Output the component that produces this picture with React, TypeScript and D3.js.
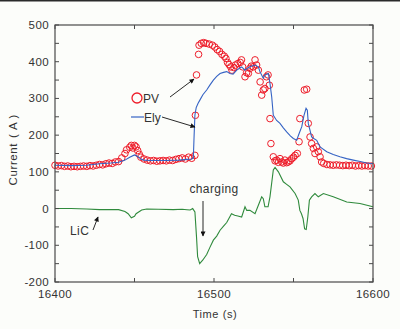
import React from "react";
import * as d3 from "d3";

const W = 400;
const H = 329;

const xTicks = [16400, 16500, 16600];
const xMinorTicks = [16400, 16450, 16500, 16550, 16600];
const yTicks = [-200, -100, 0, 100, 200, 300, 400, 500];
const yMinorTicks = [-200, -150, -100, -50, 0, 50, 100, 150, 200, 250, 300, 350, 400, 450, 500];

const pvTime = [
  16400, 16402, 16404, 16406, 16408, 16410, 16412, 16414, 16416, 16418, 16420, 16422, 16424, 16426, 16428,
  16430, 16432, 16434, 16436, 16438, 16440, 16442, 16444, 16445, 16447, 16448, 16449, 16450, 16451, 16452,
  16453, 16454, 16456, 16458, 16460, 16462, 16464, 16466, 16468, 16470, 16472, 16474, 16476, 16478, 16480,
  16482, 16484, 16486, 16488, 16488.3, 16489, 16490.3, 16490.6, 16492, 16493.5, 16495, 16497, 16499, 16500.5,
  16502, 16503.5, 16505, 16506.5, 16507.5, 16508.5, 16509.5, 16510.5, 16511.3, 16512.5, 16513.5, 16515,
  16516.5, 16517.3, 16518, 16519.5, 16520.5, 16521.6, 16522.6, 16523.5, 16524.7, 16525.8, 16526.8, 16527.9,
  16529, 16530, 16531, 16532, 16533, 16534, 16534.8, 16535.2, 16535.8, 16537.3, 16538.4, 16539.4, 16540.5,
  16541.5, 16542.6, 16543.6, 16544.6, 16545.7, 16546.7, 16547.8, 16548.9, 16550, 16551, 16552.4, 16553.5,
  16554, 16556.8, 16558.3, 16559.3, 16560.4, 16561.4, 16562.5, 16563.5, 16564.6, 16565.6, 16566.7, 16567.7,
  16569, 16571, 16573, 16575, 16577, 16579, 16581, 16583, 16585, 16587, 16589, 16591, 16593, 16595, 16597, 16599,
];
const pvValue = [
  118, 116, 117, 115, 116, 114, 115, 114, 115, 116, 115, 117, 116, 118, 120,
  119, 122, 124, 123, 127, 128, 138, 150, 160, 167, 172, 165, 172, 168, 158,
  148, 140, 135, 132, 130, 131, 129, 130, 131, 130, 132, 131, 134, 136, 138,
  135, 140, 137, 145, 254, 364, 420, 445, 450, 452, 450, 448, 445, 440,
  433, 428, 420, 415, 409, 398, 392, 386, 377, 384, 391, 395,
  398, 405, 386, 359, 370, 368, 382, 388, 386, 405, 391, 377,
  345, 309, 323, 327, 359, 364, 336, 245, 177, 141, 130, 132, 126,
  136, 127, 124, 132, 125, 127, 130, 136, 140, 145, 150, 182,
  245, 323, 325, 232, 195, 177, 164, 150, 168, 155, 141, 127,
  123, 120, 119, 118, 119, 118, 117, 118, 117, 118, 116, 117, 116, 117, 116, 116,
];

const elyTime = [
  16400, 16410, 16420, 16428, 16435, 16440, 16444, 16447, 16450, 16452, 16454, 16456, 16460, 16470, 16478,
  16483, 16486, 16487, 16487.5, 16488, 16488.8, 16490, 16491.2, 16493, 16495.4, 16497.5, 16499.6, 16501.7,
  16503.8, 16506, 16508, 16510, 16512, 16514.3, 16516, 16517.4, 16519.5, 16521, 16522.6, 16525.8, 16527.9,
  16528.9, 16531, 16532, 16534.2, 16535.2, 16536.3, 16537.3, 16539.4, 16541.5, 16543.6, 16545.7, 16548,
  16549.9, 16552, 16553.6, 16555.2, 16556.6, 16557.9, 16558.7, 16559.3, 16561.4, 16563, 16564.6, 16566.7,
  16570.9, 16575, 16579.2, 16583.4, 16587.6, 16592, 16596, 16600,
];
const elyValue = [
  118, 117, 118, 122, 124, 126, 132, 140, 146, 142, 135, 132, 131, 131, 132,
  134, 135, 138, 200, 255, 275, 287, 296, 310, 323, 337, 350, 360,
  368, 371, 373, 368, 366, 377, 382, 386, 377, 382, 386, 391, 386,
  373, 355, 364, 368, 341, 304, 254, 240, 232, 220, 209, 198,
  191, 186, 205, 223, 254, 273, 268, 232, 195, 190, 186, 168,
  155, 147, 141, 136, 132, 128, 124, 122,
];

const licTime = [
  16400, 16410, 16420, 16428, 16440, 16444, 16446, 16448, 16450, 16451, 16454.5, 16457.7, 16465, 16474.4,
  16480, 16483, 16485, 16486.6, 16488, 16489, 16489.7, 16491, 16493, 16495.4, 16497.5, 16499.6, 16501.7,
  16503.8, 16506, 16508, 16511, 16513, 16515, 16517.4, 16519.5, 16520.6, 16522.6, 16525.8, 16527.9, 16530,
  16531, 16532, 16534, 16535.2, 16537.3, 16538.4, 16540.5, 16543.6, 16545.7, 16547.8, 16551, 16553, 16554,
  16555, 16556, 16557, 16558, 16559, 16560, 16561.4, 16563.5, 16565.6, 16568.8, 16575, 16583.5, 16591.8, 16600,
];
const licValue = [
  0, 0, -1, -3, -3, -8, -14, -25, -21, -14, -4, -1, -2, -3,
  -2, -3, -4, 0, -9, -77, -131, -150, -140, -125, -105, -86, -75,
  -59, -48, -38, -14, -18, -20, -23, 5, -5, -5, -14, 9, 32,
  27, 5, 5, 32, 105, 112, 100, 73, 66, 59, 41, 23, -5,
  -14, -27, -55, -57, -23, 23, 32, 41, 32, 41, 32, 18, 14, 5,
];

const RED = "#ee1d2a";
const BLUE = "#3563c4";
const GREEN = "#2f8a3c";
const AXIS = "#4a4a4a";
const TEXT = "#333333";
const FONT = "'Liberation Sans', Arial, Helvetica, sans-serif";

export default function App() {
  const x = d3.scaleLinear().domain([16400, 16600]).range([55, 373]);
  const y = d3.scaleLinear().domain([-200, 500]).range([282, 25]);

  const elyData = elyTime.map((t, i) => [t, elyValue[i]] as [number, number]);
  const licData = licTime.map((t, i) => [t, licValue[i]] as [number, number]);
  const line = d3
    .line<[number, number]>()
    .x((d) => x(d[0]))
    .y((d) => y(d[1]));

  const [x0, x1] = x.range();
  const [yb, yt] = y.range();
  const tl = 4;

  return (
    <svg
      width={W}
      height={H}
      style={{ position: "absolute", left: 0, top: 0, background: "#fcfdfa" }}
      fontFamily={FONT}
    >
      <defs>
        <marker id="ah" viewBox="0 0 10 10" refX="9" refY="5" markerWidth="6" markerHeight="5" orient="auto" markerUnits="userSpaceOnUse">
          <path d="M0,0 L10,5 L0,10 z" fill="#111" />
        </marker>
      </defs>
      <rect x={0} y={0} width={W} height={1.5} fill="#2a2a2a" />

      {/* data */}
      <path d={line(licData) || ""} fill="none" stroke={GREEN} strokeWidth={1.1} />
      {pvTime.map((t, i) => (
        <circle key={i} cx={x(t)} cy={y(pvValue[i])} r={3.3} fill="none" stroke={RED} strokeWidth={1} />
      ))}
      <path d={line(elyData) || ""} fill="none" stroke={BLUE} strokeWidth={1.1} />

      {/* frame */}
      <rect x={x0} y={yt} width={x1 - x0} height={yb - yt} fill="none" stroke={AXIS} strokeWidth={1.2} />
      {yMinorTicks.map((v) => (
        <g key={"y" + v}>
          <line x1={x0} x2={x0 + tl} y1={y(v)} y2={y(v)} stroke={AXIS} strokeWidth={1} />
          <line x1={x1} x2={x1 - tl} y1={y(v)} y2={y(v)} stroke={AXIS} strokeWidth={1} />
        </g>
      ))}
      {xMinorTicks.map((v) => (
        <g key={"x" + v}>
          <line x1={x(v)} x2={x(v)} y1={yb} y2={yb - tl} stroke={AXIS} strokeWidth={1} />
          <line x1={x(v)} x2={x(v)} y1={yt} y2={yt + tl} stroke={AXIS} strokeWidth={1} />
        </g>
      ))}
      {yTicks.map((v) => (
        <text key={"yl" + v} x={49} y={y(v) + 4} textAnchor="end" fontSize={11.5} fill={TEXT} letterSpacing={0.4}>
          {v}
        </text>
      ))}
      {xTicks.map((v) => (
        <text key={"xl" + v} x={x(v)} y={298} textAnchor="middle" fontSize={11.5} fill={TEXT} letterSpacing={0.4}>
          {v}
        </text>
      ))}
      <text x={215} y={318} textAnchor="middle" fontSize={11} fill={TEXT} letterSpacing={0.6}>
        Time (s)
      </text>
      <g transform="translate(17,148) rotate(-90)">
        <text x={0} y={0} textAnchor="middle" fontSize={11.5} fill={TEXT} letterSpacing={0.6}>
          Current<tspan dx={5} letterSpacing={4}>(A)</tspan>
        </text>
      </g>

      {/* annotations */}
      <circle cx={137} cy={98} r={5} fill="none" stroke={RED} strokeWidth={1.3} />
      <text x={143} y={102.5} fontSize={12} fill={TEXT}>PV</text>
      <line x1={170} y1={97} x2={194} y2={79} stroke="#111" strokeWidth={0.9} markerEnd="url(#ah)" />

      <line x1={131} y1={117} x2={144} y2={117} stroke={BLUE} strokeWidth={1.2} />
      <text x={144} y={121.5} fontSize={12} fill={TEXT}>Ely</text>
      <line x1={162} y1={117} x2={195} y2={127} stroke="#111" strokeWidth={0.9} markerEnd="url(#ah)" />

      <text x={214} y={193} textAnchor="middle" fontSize={12} fill={TEXT} letterSpacing={0.4}>charging</text>
      <line x1={203} y1={201} x2={203} y2={236} stroke="#111" strokeWidth={0.9} markerEnd="url(#ah)" />

      <text x={70} y={235} fontSize={12} fill={TEXT} letterSpacing={0.4}>LiC</text>
      <line x1={93} y1={230} x2={98} y2={217} stroke="#111" strokeWidth={0.9} markerEnd="url(#ah)" />
    </svg>
  );
}
